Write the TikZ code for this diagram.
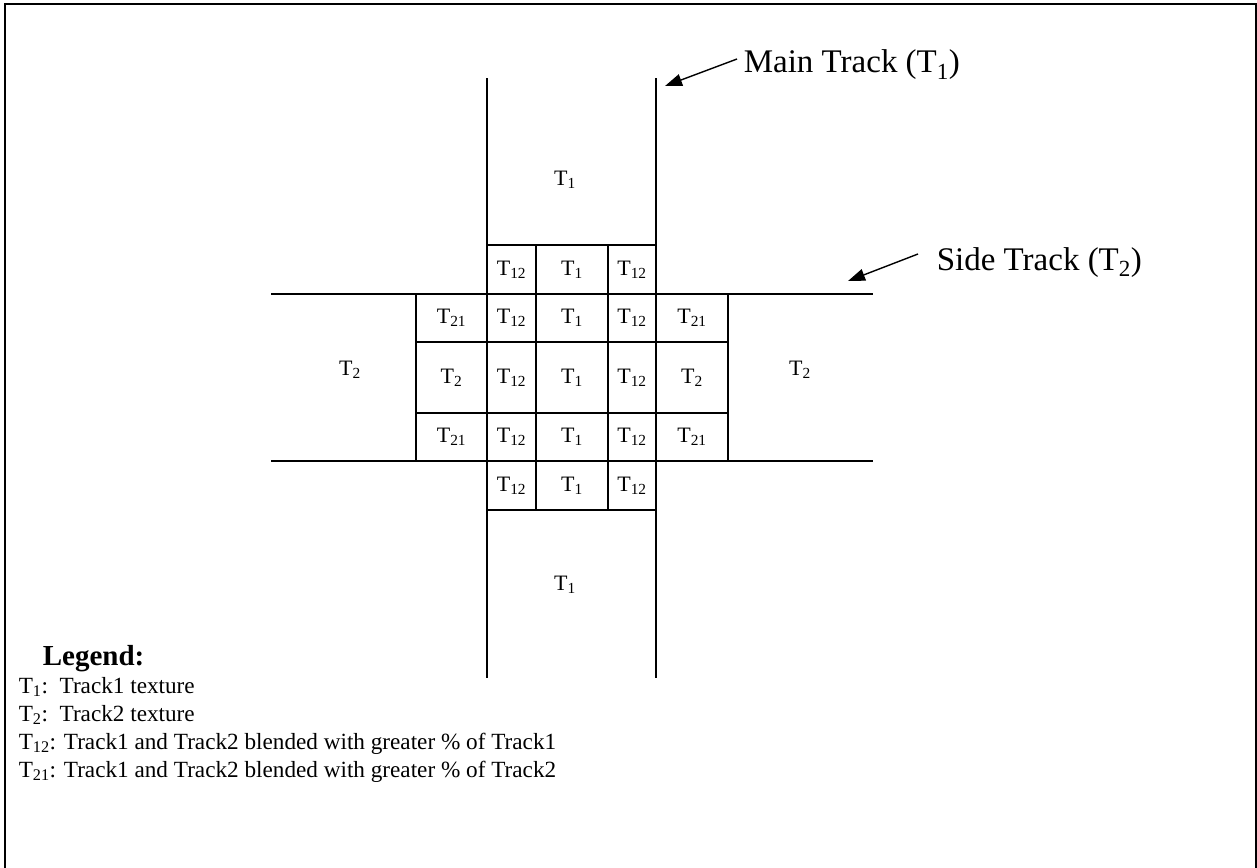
\documentclass[tikz,border=0pt]{standalone}
\usepackage{fontspec}
\setmainfont{Liberation Serif}
\usetikzlibrary{arrows.meta}
\newcommand\Tx[1]{T\textsubscript{#1}}
\begin{document}
\begin{tikzpicture}[x=1pt,y=-1pt,line width=1.6pt,
  cell/.style={draw,rectangle,inner sep=0pt,outer sep=0pt,font=\fontsize{22}{26}\selectfont},
  biglabel/.style={inner sep=0pt,font=\fontsize{22}{26}\selectfont},
  callout/.style={inner sep=0pt,anchor=base west,font=\fontsize{33}{38}\selectfont},
  legendhead/.style={inner sep=0pt,anchor=base west,font=\fontsize{29}{33}\selectfont\bfseries},
  legenditem/.style={inner sep=0pt,anchor=base west,font=\fontsize{23.2}{27}\selectfont},
  pointer/.style={-{Triangle[length=17pt,width=12pt]},line width=1.4pt}]
\useasboundingbox (0,0) rectangle (1257,867);

% outer frame (open at the bottom)
\draw (5,880) -- (5,4) -- (1256,4) -- (1256,880);

% blended cells around the crossing: label/x/y/width/height/name
\foreach \lbl/\cx/\cy/\w/\h/\nm in {
  {\Tx{12}}/511.5/269.5/49/49/a1, {\Tx{1}}/572/269.5/72/49/a2, {\Tx{12}}/632/269.5/48/49/a3,
  {\Tx{21}}/451.5/318/71/48/b0, {\Tx{12}}/511.5/318/49/48/b1, {\Tx{1}}/572/318/72/48/b2, {\Tx{12}}/632/318/48/48/b3, {\Tx{21}}/692/318/72/48/b4,
  {\Tx{2}}/451.5/377.5/71/71/c0, {\Tx{12}}/511.5/377.5/49/71/c1, {\Tx{1}}/572/377.5/72/71/c2, {\Tx{12}}/632/377.5/48/71/c3, {\Tx{2}}/692/377.5/72/71/c4,
  {\Tx{21}}/451.5/437/71/48/d0, {\Tx{12}}/511.5/437/49/48/d1, {\Tx{1}}/572/437/72/48/d2, {\Tx{12}}/632/437/48/48/d3, {\Tx{21}}/692/437/72/48/d4,
  {\Tx{12}}/511.5/485.5/49/49/e1, {\Tx{1}}/572/485.5/72/49/e2, {\Tx{12}}/632/485.5/48/49/e3}
  \node[cell,minimum width=\w pt,minimum height=\h pt] (\nm) at (\cx,\cy) {\lbl};

% main track edges (vertical)
\coordinate (mlt) at (487,78);  \coordinate (mlb) at (487,678);
\coordinate (mrt) at (656,78);  \coordinate (mrb) at (656,678);
\draw (mlt) -- (a1.north west);
\draw (e1.south west) -- (mlb);
\draw (mrt) -- (a3.north east);
\draw (e3.south east) -- (mrb);

% side track edges (horizontal)
\coordinate (slt) at (271,294); \coordinate (srt) at (873,294);
\coordinate (slb) at (271,461); \coordinate (srb) at (873,461);
\draw (slt) -- (b0.north west);
\draw (b4.north east) -- (srt);
\draw (slb) -- (d0.south west);
\draw (d4.south east) -- (srb);

% plain track textures
\node[biglabel] (t1top) at (565,180) {\Tx{1}};
\node[biglabel] (t1bot) at (565,585) {\Tx{1}};
\node[biglabel] (t2left) at (350,370) {\Tx{2}};
\node[biglabel] (t2right) at (800,370) {\Tx{2}};

% callouts
\node[callout] (main) at (743,73) {Main Track (\Tx{1})};
\node[callout] (side) at (936,270) {Side Track (\Tx{2})};
\coordinate (mainfrom) at (737,59);
\coordinate (mainto) at (665,86);
\coordinate (sidefrom) at (918,254);
\coordinate (sideto) at (848,281);
\draw[pointer] (mainfrom) -- (mainto);
\draw[pointer] (sidefrom) -- (sideto);

% legend
\node[legendhead] (leg) at (42,665) {Legend:};
\node[legenditem] (l1) at (18,693) {\Tx{1}:\ \ Track1 texture};
\node[legenditem] (l2) at (18,721) {\Tx{2}:\ \ Track2 texture};
\node[legenditem] (l3) at (18,749) {\Tx{12}: Track1 and Track2 blended with greater \% of Track1};
\node[legenditem] (l4) at (18,777) {\Tx{21}: Track1 and Track2 blended with greater \% of Track2};
\end{tikzpicture}
\end{document}
